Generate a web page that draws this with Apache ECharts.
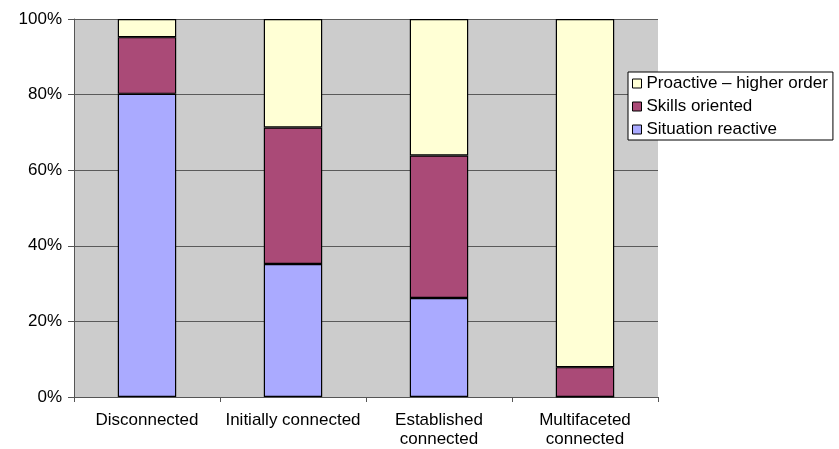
<!DOCTYPE html>
<html>
<head>
<meta charset="utf-8">
<script src="https://cdn.jsdelivr.net/npm/echarts@6/dist/echarts.min.js"></script>
<style>
  html, body { margin: 0; padding: 0; background: #ffffff; }
  #chart { width: 839px; height: 449px; }
</style>
</head>
<body>
<div id="chart"></div>
<script>
// Share of reflection type at each stage of connectedness (percent)
const categories = ['Disconnected', 'Initially connected', 'Established\nconnected', 'Multifaceted\nconnected'];
const situationReactive = [80.2, 35.2, 26.2, 0];
const skillsOriented = [15.0, 36.1, 37.7, 7.9];
const proactiveHigher = [4.8, 28.7, 36.1, 92.1];
const yTicks = [0, 20, 40, 60, 80, 100];

const FONT = 'Arial, "Liberation Sans", sans-serif';

function barSeries(name, values, color) {
  return {
    name: name,
    type: 'bar',
    stack: 'total',
    barWidth: '40%',
    data: values,
    itemStyle: { color: color, borderColor: '#000000', borderWidth: 1.2 },
    emphasis: { disabled: true }
  };
}

const chart = echarts.init(document.getElementById('chart'), null, { renderer: 'canvas' });
chart.setOption({
  animation: false,
  textStyle: { fontFamily: FONT },
  grid: {
    left: 74, right: 181, top: 19, bottom: 51,
    show: true, backgroundColor: '#cccccc', borderWidth: 0
  },
  legend: {
    orient: 'vertical',
    left: 628, top: 72,
    data: ['Proactive – higher order', 'Skills oriented', 'Situation reactive'],
    icon: 'rect',
    itemWidth: 9, itemHeight: 9, itemGap: 6,
    backgroundColor: '#ffffff',
    borderColor: '#000000', borderWidth: 1,
    padding: [3, 5, 2, 4],
    textStyle: { fontSize: 17, lineHeight: 17, color: '#000000', fontFamily: FONT },
    itemStyle: { borderColor: '#000000', borderWidth: 1 }
  },
  xAxis: {
    type: 'category',
    data: categories,
    axisLine: { lineStyle: { color: '#555555', width: 1 } },
    axisTick: { show: true, alignWithLabel: false, length: 5, lineStyle: { color: '#555555' } },
    axisLabel: { fontSize: 17, color: '#000000', margin: 14, lineHeight: 19, fontFamily: FONT, interval: 0 },
    splitLine: { show: false }
  },
  yAxis: {
    type: 'value',
    min: yTicks[0], max: yTicks[yTicks.length - 1], interval: 20,
    axisLine: { show: true, lineStyle: { color: '#555555', width: 1 } },
    axisTick: { show: true, length: 6, lineStyle: { color: '#555555' } },
    axisLabel: { fontSize: 17, color: '#000000', margin: 12, formatter: '{value}%', fontFamily: FONT },
    splitLine: { show: true, lineStyle: { color: '#5a5a5a', width: 1 } }
  },
  series: [
    barSeries('Situation reactive', situationReactive, '#aaaaff'),
    barSeries('Skills oriented', skillsOriented, '#aa4a77'),
    barSeries('Proactive – higher order', proactiveHigher, '#ffffd5')
  ]
});
</script>
</body>
</html>
